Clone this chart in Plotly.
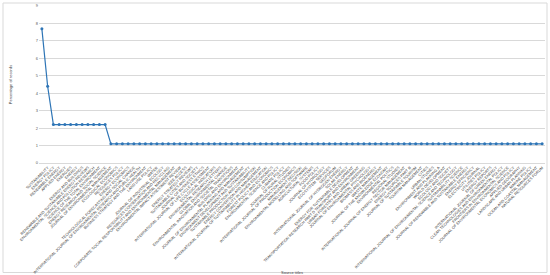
import plotly.graph_objects as go

source_titles = [
    "JOURNAL OF CLEANER PRODUCTION", "SUSTAINABILITY", "ENERGY POLICY", "RENEWABLE ENERGY",
    "APPLIED ENERGY", "ENERGIES", "ENERGY", "ENERGY AND BUILDINGS",
    "RENEWABLE AND SUSTAINABLE ENERGY REVIEWS", "ENVIRONMENTAL SCIENCE AND POLLUTION RESEARCH",
    "SCIENCE OF THE TOTAL ENVIRONMENT", "ENERGY RESEARCH AND SOCIAL SCIENCE",
    "JOURNAL OF ENVIRONMENTAL MANAGEMENT", "ECOLOGICAL ECONOMICS", "RESOURCES POLICY",
    "ENERGY ECONOMICS", "TECHNOLOGICAL FORECASTING AND SOCIAL CHANGE",
    "INTERNATIONAL JOURNAL OF ENVIRONMENTAL RESEARCH AND PUBLIC HEALTH",
    "BUSINESS STRATEGY AND THE ENVIRONMENT", "LAND USE POLICY", "WATER",
    "JOURNAL OF INDUSTRIAL ECOLOGY", "RESOURCES CONSERVATION AND RECYCLING",
    "CORPORATE SOCIAL RESPONSIBILITY AND ENVIRONMENTAL MANAGEMENT",
    "ENVIRONMENTAL IMPACT ASSESSMENT REVIEW", "IEEE ACCESS", "ENERGY STRATEGY REVIEWS",
    "SUSTAINABLE CITIES AND SOCIETY", "JOURNAL OF BUSINESS ETHICS",
    "INTERNATIONAL JOURNAL OF LIFE CYCLE ASSESSMENT", "ECOLOGICAL INDICATORS",
    "ENVIRONMENTAL RESEARCH LETTERS", "GLOBAL ENVIRONMENTAL CHANGE",
    "ENVIRONMENTAL INNOVATION AND SOCIETAL TRANSITIONS", "BUILDING AND ENVIRONMENT",
    "JOURNAL OF ENVIRONMENTAL PLANNING AND MANAGEMENT", "ENVIRONMENT DEVELOPMENT AND SUSTAINABILITY",
    "SUSTAINABLE PRODUCTION AND CONSUMPTION", "ENERGY CONVERSION AND MANAGEMENT",
    "INTERNATIONAL JOURNAL OF SUSTAINABILITY IN HIGHER EDUCATION", "FOREST POLICY AND ECONOMICS",
    "ENVIRONMENTAL SCIENCE AND POLICY", "CLIMATE POLICY", "JOURNAL OF RURAL STUDIES",
    "INTERNATIONAL JOURNAL OF PRODUCTION ECONOMICS", "MANAGEMENT DECISION",
    "ENVIRONMENTAL MODELLING AND SOFTWARE", "AGRICULTURAL SYSTEMS", "FOOD POLICY",
    "JOURNAL OF HYDROLOGY", "ECOSYSTEM SERVICES", "GEOFORUM",
    "INTERNATIONAL JOURNAL OF HYDROGEN ENERGY", "SOLAR ENERGY", "ENERGY FOR SUSTAINABLE DEVELOPMENT",
    "TRANSPORTATION RESEARCH PART D TRANSPORT AND ENVIRONMENT", "URBAN FORESTRY AND URBAN GREENING",
    "JOURNAL OF ENVIRONMENTAL PSYCHOLOGY", "BIOMASS AND BIOENERGY", "WASTE MANAGEMENT",
    "JOURNAL OF THE KNOWLEDGE ECONOMY", "ENVIRONMENTAL POLITICS", "REGIONAL STUDIES",
    "INTERNATIONAL JOURNAL OF ENERGY SECTOR MANAGEMENT", "ENERGY SOURCES PART B",
    "JOURNAL OF SUSTAINABLE TOURISM", "TOURISM MANAGEMENT", "CITIES", "URBAN STUDIES",
    "ENVIRONMENT AND PLANNING A", "WORLD DEVELOPMENT", "ECOLOGY AND SOCIETY",
    "INTERNATIONAL JOURNAL OF ENVIRONMENTAL SCIENCE AND TECHNOLOGY", "SUSTAINABILITY SCIENCE",
    "JOURNAL OF RENEWABLE AND SUSTAINABLE ENERGY", "ENERGY EFFICIENCY",
    "ELECTRICITY JOURNAL", "UTILITIES POLICY", "ENERGY REPORTS",
    "INTERNATIONAL JOURNAL OF GREEN ENERGY", "CLEAN TECHNOLOGIES AND ENVIRONMENTAL POLICY",
    "FRONTIERS IN ENVIRONMENTAL SCIENCE", "JOURNAL OF ENVIRONMENTAL ECONOMICS AND POLICY",
    "APPLIED GEOGRAPHY", "LANDSCAPE AND URBAN PLANNING", "MARINE POLICY",
    "OCEAN AND COASTAL MANAGEMENT", "NATURAL RESOURCES FORUM",
]

percentage_of_records = [7.69, 4.40] + [2.20] * 10 + [1.10] * 76

x_idx = list(range(len(percentage_of_records)))

fig = go.Figure(go.Scatter(
    x=x_idx,
    y=percentage_of_records,
    mode="lines+markers",
    line=dict(color="#2E75B6", width=1.2),
    marker=dict(color="#2E75B6", size=3),
    showlegend=False,
))

L, R, T, B = 39, 5, 6, 112
W, H = 550, 275
pw = W - L - R
ph = H - T - B

fig.update_layout(
    width=W, height=H,
    margin=dict(l=L, r=R, t=T, b=B),
    paper_bgcolor="white", plot_bgcolor="white",
    font=dict(family="Liberation Sans, Arial, sans-serif", color="#595959", size=4),
    xaxis=dict(
        tickmode="array", tickvals=x_idx, ticktext=source_titles,
        tickangle=-45, tickfont=dict(size=3.8, color="#404040"),
        range=[-0.5, len(x_idx) - 0.5],
        showgrid=False, showline=True, linecolor="#D9D9D9", linewidth=1,
        zeroline=False, ticks="",
        title=dict(text="Source titles", font=dict(size=4, color="#404040"), standoff=0),
        automargin=False,
    ),
    yaxis=dict(
        range=[0, 9], dtick=1, tick0=0,
        showgrid=True, gridcolor="#D9D9D9", gridwidth=1,
        showline=False, zeroline=False,
        tickfont=dict(size=4, color="#595959"), ticks="",
        title=dict(text="Percentage of records", font=dict(size=4, color="#404040"), standoff=23),
        automargin=False,
    ),
    shapes=[dict(
        type="rect", xref="paper", yref="paper",
        x0=(3 - L) / pw, x1=(547 - L) / pw,
        y0=(H - B - 272.5) / ph, y1=(H - B - 3) / ph,
        line=dict(color="#D9D9D9", width=1), fillcolor="rgba(0,0,0,0)", layer="below",
    )],
)

fig.write_html(
    "out.html",
    config={"displayModeBar": False},
    post_script="document.body.style.margin='0';document.body.style.overflow='hidden';",
)
